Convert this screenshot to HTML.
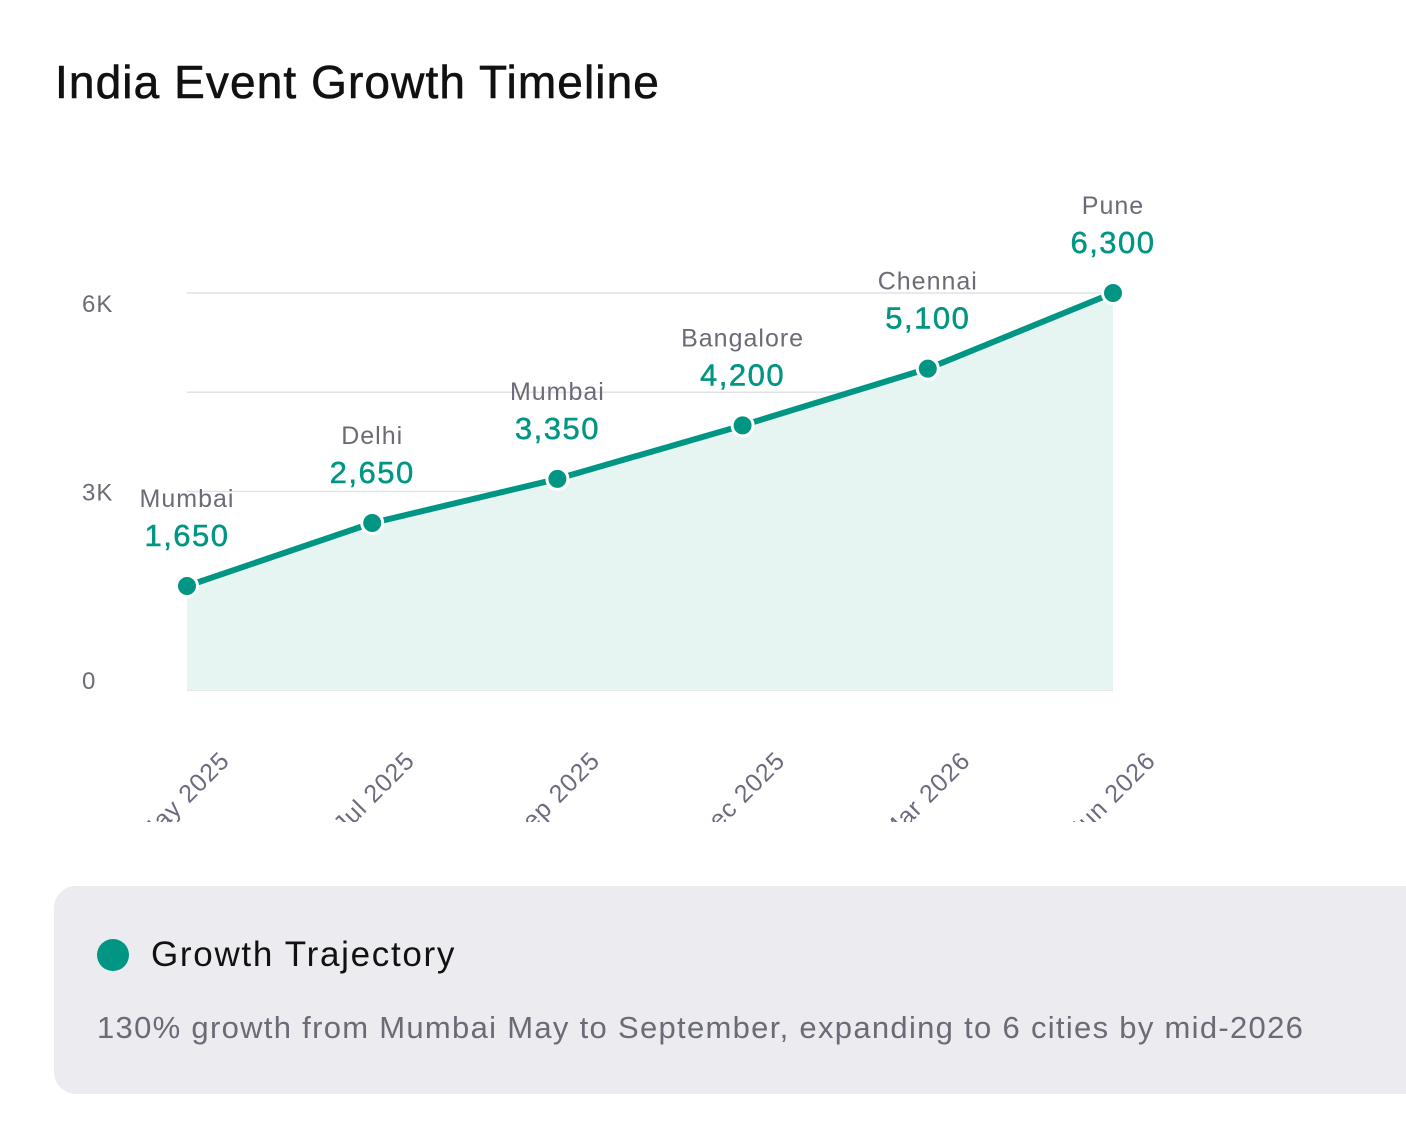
<!DOCTYPE html>
<html><head><meta charset="utf-8"><style>
body{margin:0;width:1406px;height:1124px;background:#fff;font-family:"Liberation Sans",sans-serif;overflow:hidden;position:relative}
#title{position:absolute;left:55px;top:55px;font-size:46px;font-weight:normal;color:#111;margin:0;letter-spacing:1.1px;-webkit-text-stroke:0.6px #111}
#legend{position:absolute;left:54px;top:886px;width:1400px;height:208px;background:#ebebf0;border-radius:22px}
#dot{position:absolute;left:43px;top:53px;width:32px;height:32px;border-radius:50%;background:#009683}
#lt{position:absolute;left:97px;top:49px;font-size:35px;color:#111;letter-spacing:1.7px}
#ld{position:absolute;left:43px;top:124px;font-size:31px;color:#6b6b78;letter-spacing:1.3px}
</style></head><body>
<h1 id="title">India Event Growth Timeline</h1>
<svg id="chart" width="1406" height="880" style="position:absolute;left:0;top:0">
<defs><clipPath id="clip"><rect x="0" y="0" width="1406" height="822"/></clipPath></defs>
<g id="grid"></g><g id="area"></g><g id="xl" clip-path="url(#clip)"></g><g id="marks"></g>
</svg>
<div id="legend">
<div id="dot"></div>
<div id="lt">Growth Trajectory</div>
<div id="ld">130% growth from Mumbai May to September, expanding to 6 cities by mid-2026</div>
</div>
<script>
const months=["May 2025","Jul 2025","Sep 2025","Dec 2025","Mar 2026","Jun 2026"];
const cities=["Mumbai","Delhi","Mumbai","Bangalore","Chennai","Pune"];
const values=[1650,2650,3350,4200,5100,6300];
const yTicks=[0,1575,3150,4725,6300];
const yTickLabels=["0","","3K","","6K"];
const NS="http://www.w3.org/2000/svg";
const yMax=6300,y0=690,y1=293,x0=187,x1=1113;
const X=i=>x0+(x1-x0)*i/(months.length-1);
const Y=v=>y0-(y0-y1)*v/yMax;
function mk(t,a,p){const e=document.createElementNS(NS,t);for(const k in a)e.setAttribute(k,a[k]);p.appendChild(e);return e;}
const grid=document.getElementById('grid');
yTicks.forEach((t,i)=>{
 const l=mk('line',{x1:x0,x2:x1,y1:Y(t),y2:Y(t),stroke:'#e2e2e6','stroke-width':1.5},grid);
 
 
 if(yTickLabels[i]){const tx=mk('text',{x:82,y:Y(t)+9+(t/yMax-0.5)*20,'font-size':24,fill:'#6b6b78','letter-spacing':1},grid);tx.textContent=yTickLabels[i];
 
 }
});
const area=document.getElementById('area');
let d=`M${X(0)},${y0}`;values.forEach((v,i)=>d+=`L${X(i)},${Y(v)}`);d+=`L${X(values.length-1)},${y0}Z`;
const ar=mk('path',{d,fill:'#e6f4f2'},area);


const pl=mk('polyline',{points:values.map((v,i)=>X(i)+','+Y(v)).join(' '),fill:'none',stroke:'#009683','stroke-width':6,'stroke-linejoin':'round'},area);


const xl=document.getElementById('xl');
months.forEach((m,i)=>{
 const t=mk('text',{x:X(i)+44,y:762,'text-anchor':'end','font-size':25,fill:'#6b6b80','letter-spacing':1,transform:`rotate(-45 ${X(i)+44} 762)`},xl);t.textContent=m;
 
 
});
const marks=document.getElementById('marks');
values.forEach((v,i)=>{
 const c=mk('circle',{cx:X(i),cy:Y(v),r:10.5,fill:'#009683',stroke:'#fff','stroke-width':3},marks);
 
 
 const a=mk('text',{x:X(i),y:Y(v)-79,'text-anchor':'middle','font-size':25,fill:'#6b6b78','letter-spacing':1},marks);a.textContent=cities[i];
 
 
 const b=mk('text',{x:X(i),y:Y(v)-40,'text-anchor':'middle','font-size':31,'font-weight':'500',fill:'#009683','letter-spacing':1.5,stroke:'#009683','stroke-width':0.5},marks);b.textContent=v.toLocaleString('en-US');
 
 
});
</script>
</body></html>
